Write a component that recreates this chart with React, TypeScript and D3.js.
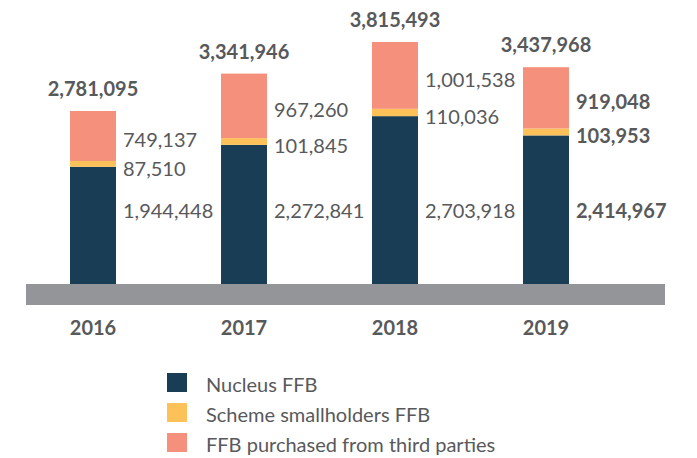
import React from "react";
import * as d3 from "d3";

const years = ["2016", "2017", "2018", "2019"];
const nucleus = [1944448, 2272841, 2703918, 2414967];
const scheme = [87510, 101845, 110036, 103953];
const thirdParty = [749137, 967260, 1001538, 919048];
const totals = [2781095, 3341946, 3815493, 3437968];
const boldLabels = [false, false, false, true];
const seriesNames = ["Nucleus FFB", "Scheme smallholders FFB", "FFB purchased from third parties"];
const colors = ["#1a3d56", "#fdc15a", "#f5907c"];

const W = 697;
const H = 458;
const textColor = "#58595b";
const font = "Lato, 'Open Sans', sans-serif";

export default function App() {
  const x = d3
    .scaleBand<string>()
    .domain(years)
    .range([17.5, 621.5])
    .paddingInner(105 / 151)
    .paddingOuter(105 / 151 / 2);
  const y = d3.scaleLinear().domain([0, 4000000]).range([296.5, 29.7]);

  const data = years.map((yr, i) => ({ yr, vals: [nucleus[i], scheme[i], thirdParty[i]] }));
  const stack = d3.stack<any>().keys(["0", "1", "2"]).value((d, k) => d.vals[+k]);
  const stacked = stack(data);

  const fmt = d3.format(",");

  return (
    <svg width={W} height={H} style={{ position: "absolute", left: 0, top: 0 }} fontFamily={font}>
      {stacked.map((layer, li) =>
        layer.map((seg, i) => (
          <rect
            key={`${li}-${i}`}
            x={x(years[i])}
            width={x.bandwidth()}
            y={y(seg[1])}
            height={y(seg[0]) - y(seg[1])}
            fill={colors[li]}
          />
        ))
      )}
      <rect x={26} y={284} width={639} height={21} fill="#939598" />
      {years.map((yr, i) => {
        const cx = (x(yr) as number) + x.bandwidth() / 2;
        const lx = (x(yr) as number) + x.bandwidth() + 7;
        const s = stacked;
        const tpMid = (y(s[2][i][0]) + y(s[2][i][1])) / 2;
        const schemeTop = y(s[1][i][1]);
        const fw = boldLabels[i] ? 700 : 400;
        return (
          <g key={yr} fill={textColor} fontSize={20}>
            <text x={cx} y={y(totals[i]) - 15} textAnchor="middle" fontWeight={700}>
              {fmt(totals[i])}
            </text>
            <text x={lx} y={tpMid + 11.5} fontWeight={fw}>
              {fmt(thirdParty[i])}
            </text>
            <text x={lx} y={schemeTop + 15} fontWeight={fw}>
              {fmt(scheme[i])}
            </text>
            <text x={lx} y={217.5} fontWeight={fw}>
              {fmt(nucleus[i])}
            </text>
            <text x={cx} y={335} textAnchor="middle" fontWeight={700}>
              {yr}
            </text>
          </g>
        );
      })}
      {seriesNames.map((n, i) => (
        <g key={n} transform={`translate(167, ${373 + i * 30})`}>
          <rect width={20} height={19} fill={colors[i]} />
          <text x={39} y={18.5} fill={textColor} fontSize={20}>
            {n}
          </text>
        </g>
      ))}
    </svg>
  );
}
